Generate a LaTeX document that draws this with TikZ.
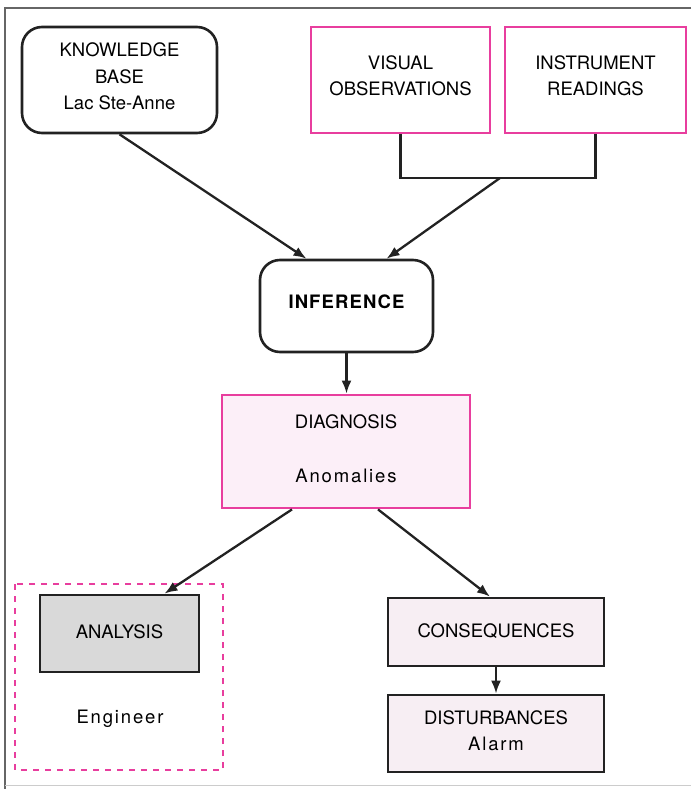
\documentclass[tikz,border=0pt]{standalone}
\usepackage{fontspec}
\setmainfont{TeX Gyre Heros}
\usetikzlibrary{arrows.meta,calc}
\definecolor{ink}{HTML}{222222}
\definecolor{magenta}{HTML}{E83E9E}
\definecolor{pinkfill}{HTML}{FCEFF8}
\definecolor{pinkgray}{HTML}{F7EEF3}
\definecolor{grayfill}{HTML}{D9D9D9}
\definecolor{framegray}{HTML}{666666}
\newfontfamily\spaced[LetterSpace=10]{TeX Gyre Heros}
\tikzset{
  every node/.style={font=\fontsize{18.5}{26.5}\selectfont, align=center, inner sep=0pt},
  roundbox/.style={draw=ink, line width=2.6pt, rounded corners=20pt, fill=white},
  pinkbox/.style={draw=magenta, line width=2.8pt, fill=white},
  diagbox/.style={draw=magenta, line width=2.8pt, fill=pinkfill},
  darkbox/.style={draw=ink, line width=2.8pt},
  flow/.style={draw=ink, line width=2.3pt, -{Latex[length=13pt,width=10pt]}},
  plain/.style={draw=ink, line width=2.3pt},
  groupbox/.style={draw=magenta, line width=1.4pt, dash pattern=on 6pt off 6pt},
  up/.style={yshift=#1},
}
\begin{document}
\begin{tikzpicture}[x=1pt,y=-1pt]
  \useasboundingbox (0,0) rectangle (691,789);
  % page frame
  \draw[framegray, line width=1.5pt] (691,8) -- (5,8) -- (5,789);
  \draw[black!20, line width=0.8pt] (5,785) -- (691,785);

  % sources
  \node[roundbox, minimum width=195pt, minimum height=106pt,
        label={[name=kbt, up=3.5pt]center:{KNOWLEDGE\\BASE\\Lac Ste-Anne}}] (kb) at (119.5,80) {};
  \node[pinkbox, minimum width=179pt, minimum height=106pt,
        label={[name=vist, up=4pt]center:{VISUAL\\OBSERVATIONS}}] (vis) at (400.5,80) {};
  \node[pinkbox, minimum width=181pt, minimum height=106pt,
        label={[name=inst, up=4pt]center:{INSTRUMENT\\READINGS}}] (ins) at (595.5,80) {};

  % inference and diagnosis
  \node[roundbox, minimum width=173pt, minimum height=92pt,
        label={[name=inft, up=4pt]center:{\bfseries\addfontfeature{LetterSpace=6}INFERENCE}}] (inf) at (346.5,306) {};
  \node[diagbox, minimum width=248pt, minimum height=113pt,
        label={[name=diagt, up=3pt]center:{DIAGNOSIS\\[27.5pt]{\spaced Anomalies}}}] (diag) at (346,451.5) {};

  % engineer group
  \draw[groupbox] (15,584) rectangle (223,770);
  \node[darkbox, fill=grayfill, minimum width=159pt, minimum height=77pt,
        label={[name=analt, up=2pt]center:ANALYSIS}] (anal) at (119.5,633.5) {};
  \node (eng) at (120,719) {\spaced Engineer};

  % consequences chain
  \node[darkbox, fill=pinkgray, minimum width=216pt, minimum height=68pt,
        label={[name=const, up=1pt]center:CONSEQUENCES}] (cons) at (496,632) {};
  \node[darkbox, fill=pinkgray, minimum width=216pt, minimum height=77pt,
        label={[name=distt, up=3pt]center:{DISTURBANCES\\{\spaced Alarm}}}] (dist) at (496,733.5) {};

  % connectors
  \coordinate (join) at (500,178);
  \draw[plain] (vis.south) |- (join) -| (ins.south);
  \draw[flow] (kb.south) -- ($(inf.north)+(-40,0)$);
  \draw[flow] (join) -- ($(inf.north)+(40,0)$);
  \draw[flow] (inf.south) -- (inf.south |- diag.north);
  \draw[flow] ($(diag.south)+(-54,0)$) -- ($(anal.north)+(45,0)$);
  \draw[flow] ($(diag.south)+(32,0)$) -- ($(cons.north)+(-6,0)$);
  \draw[flow] (cons.south) -- (dist.north);
\end{tikzpicture}
\end{document}
